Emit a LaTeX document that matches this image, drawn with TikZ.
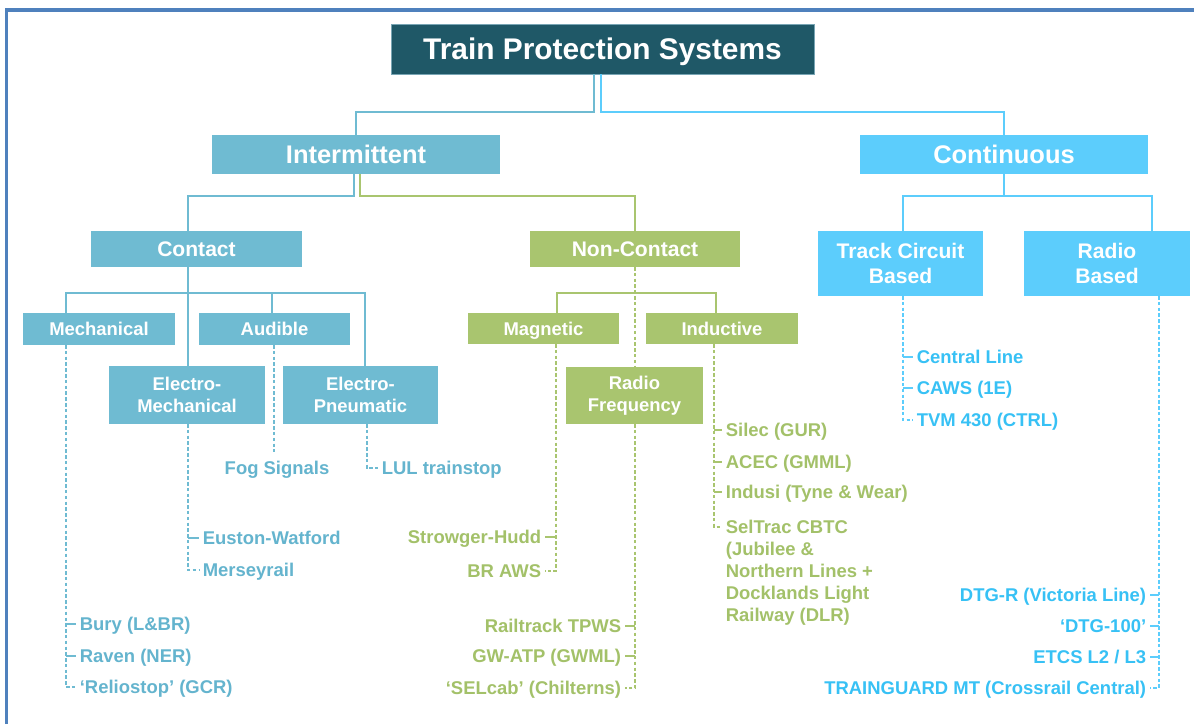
\documentclass[tikz,border=0pt]{standalone}
\usepackage{fontspec}
\setmainfont{Liberation Sans}
\definecolor{ttl}{RGB}{31,88,103}
\definecolor{ttlb}{RGB}{120,165,180}
\definecolor{cbl}{RGB}{111,187,210}
\definecolor{tbl}{RGB}{100,180,206}
\definecolor{cgr}{RGB}{169,197,111}
\definecolor{tgr}{RGB}{163,193,105}
\definecolor{ccy}{RGB}{92,205,252}
\definecolor{tcy}{RGB}{55,193,245}
\definecolor{frm}{RGB}{79,129,189}
\newcommand\mybox[7]{\node[#6, minimum width={(#4-#2)*0.02cm}, minimum height={(#5-#3)*0.02cm}] (#1) at ({(#2+#4)/2},{(#3+#5)/2}) {#7};}
\tikzset{
  box/.style={inner sep=0pt, outer sep=0pt, text=white, align=center},
  bbox/.style={box, fill=cbl},
  gbox/.style={box, fill=cgr},
  cbox/.style={box, fill=ccy},
  fA/.style={font=\bfseries\fontsize{14.5}{17}\selectfont},
  fB/.style={font=\bfseries\fontsize{12}{14.5}\selectfont},
  fC/.style={font=\bfseries\fontsize{10.5}{12.5}\selectfont},
  leaf/.style={inner sep=0pt, outer xsep=2.2pt, outer ysep=0pt, text height=7.5pt, text depth=0pt, font=\bfseries\fontsize{10.5}{12.5}\selectfont},
  bleaf/.style={leaf, text=tbl},
  gleaf/.style={leaf, text=tgr},
  cleaf/.style={leaf, text=tcy},
  bcon/.style={draw=cbl, line width=0.85pt},
  gcon/.style={draw=cgr, line width=0.85pt},
  ccon/.style={draw=ccy, line width=0.85pt},
  bdash/.style={bcon, dash pattern=on 2pt off 1.3pt},
  gdash/.style={gcon, dash pattern=on 2pt off 1.3pt},
  cdash/.style={ccon, dash pattern=on 2pt off 1.3pt},
}
\begin{document}
\begin{tikzpicture}[x=0.02cm, y=-0.02cm]
\useasboundingbox (0,0) rectangle (1194,724);
\fill[white] (0,0) rectangle (1194,724);
\draw[frm, line width=2pt] (6.5,724) -- (6.5,10) -- (1194,10);

% boxes
\mybox{title}{391}{24}{814}{74}{box, fill=ttl, draw=ttlb, line width=0.5pt, text depth=0pt, font=\bfseries\fontsize{17}{20}\selectfont}{Train Protection Systems}
\mybox{int}{212}{135}{500}{174}{bbox, fA}{Intermittent}
\mybox{cont}{860}{135}{1148}{174}{cbox, fA}{Continuous}
\mybox{contact}{91}{231}{302}{267}{bbox, fB}{Contact}
\mybox{nc}{530}{231}{740}{267}{gbox, fB}{Non-Contact}
\mybox{track}{818}{231}{983}{296}{cbox, fB}{Track Circuit\\Based}
\mybox{radio}{1024}{231}{1190}{296}{cbox, fB}{Radio\\Based}
\mybox{mech}{23}{313}{175}{345}{bbox, fC}{Mechanical}
\mybox{aud}{199}{313}{350}{345}{bbox, fC}{Audible}
\mybox{em}{109}{366}{265}{424}{bbox, fC}{Electro-\\Mechanical}
\mybox{ep}{283}{366}{438}{424}{bbox, fC}{Electro-\\Pneumatic}
\mybox{mag}{468}{313}{619}{344}{gbox, fC, text depth=0pt}{Magnetic}
\mybox{ind}{646}{313}{798}{344}{gbox, fC}{Inductive}
\mybox{rf}{566}{367}{703}{424}{gbox, fC}{Radio\\Frequency}

% leaves (blue)
\node[bleaf] (fog) at (277,468) {Fog Signals};
\node[bleaf, anchor=west] (lul) at (378,468) {LUL trainstop};
\node[bleaf, anchor=west] (euston) at (199,538) {Euston-Watford};
\node[bleaf, anchor=west] (mersey) at (199,570) {Merseyrail};
\node[bleaf, anchor=west] (bury) at (76,624) {Bury (L\&BR)};
\node[bleaf, anchor=west] (raven) at (76,656) {Raven (NER)};
\node[bleaf, anchor=west] (relio) at (76,687) {‘Reliostop’ (GCR)};
% leaves (green)
\node[gleaf, anchor=east] (strow) at (545,537) {Strowger-Hudd};
\node[gleaf, anchor=east] (braws) at (545,571) {BR AWS};
\node[gleaf, anchor=east] (railt) at (625,626) {Railtrack TPWS};
\node[gleaf, anchor=east] (gwatp) at (625,656) {GW-ATP (GWML)};
\node[gleaf, anchor=east] (selcab) at (625,688) {‘SELcab’ (Chilterns)};
\node[gleaf, anchor=west] (silec) at (722,430) {Silec (GUR)};
\node[gleaf, anchor=west] (acec) at (722,462) {ACEC (GMML)};
\node[gleaf, anchor=west] (indusi) at (722,492) {Indusi (Tyne \& Wear)};
\node[gleaf, text height=, text depth=, align=left, anchor=north west] (seltrac) at (722,520) {SelTrac CBTC\\(Jubilee \&\\Northern Lines +\\Docklands Light\\Railway (DLR)};
\coordinate (stc) at (722,527);
% leaves (cyan)
\node[cleaf, anchor=west] (central) at (913,357) {Central Line};
\node[cleaf, anchor=west] (caws) at (913,388) {CAWS (1E)};
\node[cleaf, anchor=west] (tvm) at (913,420) {TVM 430 (CTRL)};
\node[cleaf, anchor=east] (dtgr) at (1150,595) {DTG-R (Victoria Line)};
\node[cleaf, anchor=east] (dtg100) at (1150,626) {‘DTG-100’};
\node[cleaf, anchor=east] (etcs) at (1150,657) {ETCS L2 / L3};
\node[cleaf, anchor=east] (train) at (1150,688) {TRAINGUARD MT (Crossrail Central)};

% top-level connectors
\coordinate (jT) at (594,112);
\coordinate (jC) at (601,112);
\draw[bcon] (title.south -| jT) -- (jT) -| (int.north);
\draw[ccon] (title.south -| jC) -- (jC) -| (cont.north);

% intermittent
\coordinate (jI1) at (354,196);
\coordinate (jI2) at (360,196);
\coordinate (xCt) at (188,196);
\draw[bcon] (int.south -| jI1) -- (jI1) -- (xCt) -- (contact.north -| xCt);
\draw[gcon] (int.south -| jI2) -- (jI2) -| (nc.north);

% continuous
\coordinate (jK) at (1004,196);
\coordinate (xTr) at (903,196);
\coordinate (xRa) at (1152,196);
\draw[ccon] (cont.south -| jK) -- (jK);
\draw[ccon] (track.north -| xTr) -- (xTr) -- (xRa) -- (radio.north -| xRa);

% contact
\coordinate (xMe) at (66,293);
\coordinate (xAu) at (272,293);
\coordinate (xEM) at (188,293);
\coordinate (xEP) at (365,293);
\draw[bcon] (contact.south -| xEM) -- (em.north -| xEM);
\draw[bcon] (mech.north -| xMe) -- (xMe) -- (xEP) -- (ep.north -| xEP);
\draw[bcon] (xAu) -- (aud.north -| xAu);

% non-contact
\coordinate (xMa) at (557,293);
\coordinate (xIn) at (716,293);
\coordinate (xNC) at (635,293);
\draw[gdash] (nc.south -| xNC) -- (rf.north -| xNC);
\draw[gcon] (mag.north -| xMa) -- (xMa) -- (xIn) -- (ind.north -| xIn);

% leaf connectors blue
\coordinate (lMe) at (66,0);
\coordinate (lAu) at (274,0);
\coordinate (lEM) at (188,0);
\coordinate (lEP) at (367,0);
\draw[bdash] (mech.south -| lMe) |- (relio.west);
\draw[bcon] (bury.west -| lMe) -- (bury.west);
\draw[bcon] (raven.west -| lMe) -- (raven.west);
\draw[bdash, shorten >=5.3pt] (aud.south -| lAu) -- (fog.north -| lAu);
\draw[bdash] (em.south -| lEM) |- (mersey.west);
\draw[bcon] (euston.west -| lEM) -- (euston.west);
\draw[bdash] (ep.south -| lEP) |- (lul.west);

% leaf connectors green
\coordinate (lMa) at (556,0);
\coordinate (lRF) at (635,0);
\coordinate (lIn) at (714,0);
\draw[gdash] (mag.south -| lMa) |- (braws.east);
\draw[gcon] (strow.east -| lMa) -- (strow.east);
\draw[gdash] (rf.south -| lRF) |- (selcab.east);
\draw[gcon] (railt.east -| lRF) -- (railt.east);
\draw[gcon] (gwatp.east -| lRF) -- (gwatp.east);
\draw[gdash] (ind.south -| lIn) |- (stc);
\draw[gcon] (silec.west -| lIn) -- (silec.west);
\draw[gcon] (acec.west -| lIn) -- (acec.west);
\draw[gcon] (indusi.west -| lIn) -- (indusi.west);

% leaf connectors cyan
\coordinate (lTr) at (903,0);
\coordinate (lRa) at (1159,0);
\draw[cdash] (track.south -| lTr) |- (tvm.west);
\draw[ccon] (central.west -| lTr) -- (central.west);
\draw[ccon] (caws.west -| lTr) -- (caws.west);
\draw[cdash] (radio.south -| lRa) |- (train.east);
\draw[ccon] (dtgr.east -| lRa) -- (dtgr.east);
\draw[ccon] (dtg100.east -| lRa) -- (dtg100.east);
\draw[ccon] (etcs.east -| lRa) -- (etcs.east);
\end{tikzpicture}
\end{document}
